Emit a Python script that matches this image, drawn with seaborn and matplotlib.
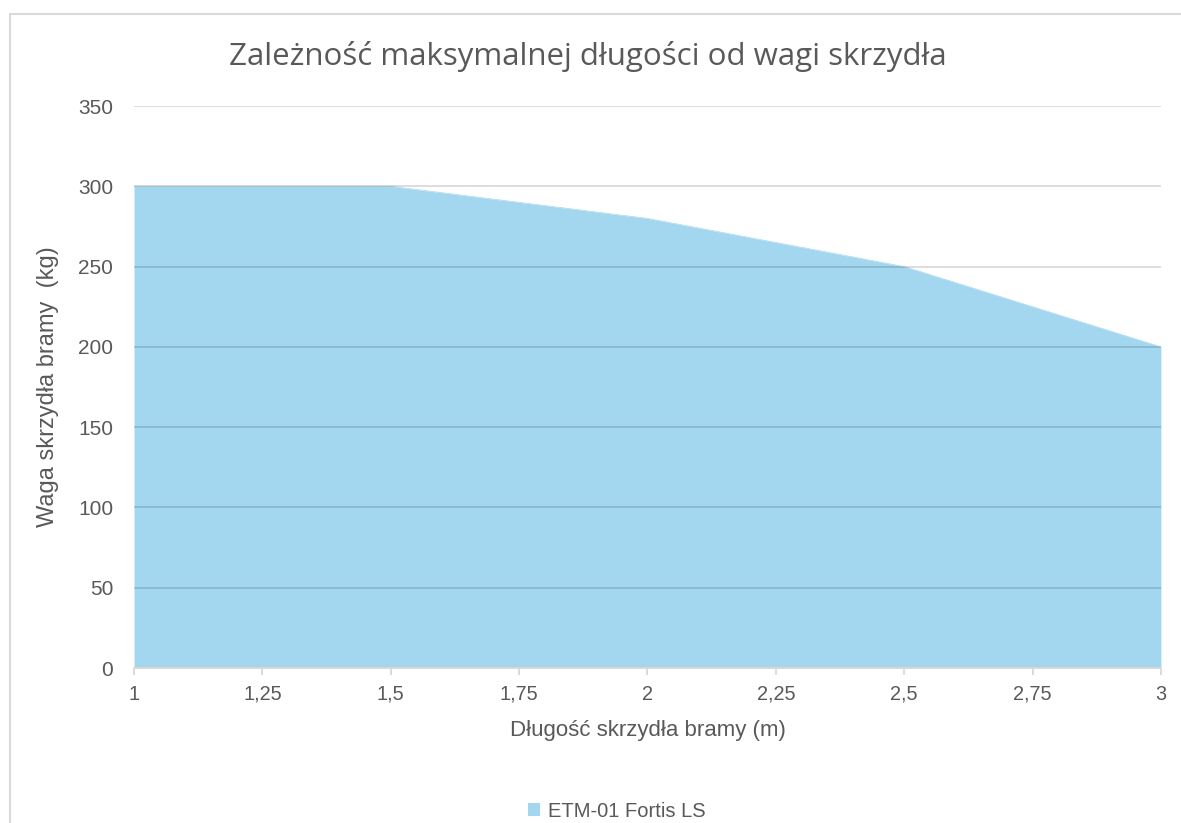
import numpy as np
import pandas as pd
import matplotlib
matplotlib.use("Agg")
import matplotlib.pyplot as plt
import seaborn as sns
from matplotlib.patches import Patch
from matplotlib.lines import Line2D
from matplotlib.ticker import FuncFormatter

# Data
dlugosc = [1.0, 1.5, 2.0, 2.5, 3.0]       # m
waga = [300, 300, 280, 250, 200]          # kg
seria = "ETM-01 Fortis LS"

df = pd.DataFrame({"x": dlugosc, "y": waga})

sns.set_style("white")
plt.rcParams['font.family'] = ['Liberation Sans', 'DejaVu Sans']

text_gray = '#595959'
fill_col = '#A3D7EF'

fig = plt.figure(figsize=(11.81, 8.23), dpi=100)
ax = fig.add_axes([0.1135, 0.1883, 0.983 - 0.1135, 0.8712 - 0.1883])

sns.lineplot(data=df, x="x", y="y", ax=ax, color=fill_col, linewidth=0.5)
ax.fill_between(df["x"], df["y"], 0, color=fill_col, linewidth=0, zorder=1)

# gridlines over the area, as in the reference
for yv in range(50, 351, 50):
    ax.axhline(yv, color='black', alpha=0.15, linewidth=1.3, zorder=3)

ax.set_xlim(1, 3)
ax.set_ylim(0, 350)
ax.set_xticks(np.arange(1, 3.01, 0.25))
ax.set_yticks(range(0, 351, 50))
fmt = FuncFormatter(lambda v, p: (f"{v:g}").replace('.', ','))
ax.xaxis.set_major_formatter(fmt)

ax.tick_params(axis='x', colors='#d9d9d9', labelcolor=text_gray, labelsize=14.3,
               length=5, width=1.3, direction='out', pad=7, bottom=True)
ax.tick_params(axis='y', labelcolor=text_gray, labelsize=15, length=0, pad=15)

for s in ['top', 'right', 'left']:
    ax.spines[s].set_visible(False)
ax.spines['bottom'].set_color('#d9d9d9')
ax.spines['bottom'].set_linewidth(1.3)
ax.spines['bottom'].set_zorder(4)

ax.set_xlabel("Długość skrzydła bramy (m)", fontsize=16, color=text_gray, labelpad=12)
ax.set_ylabel("Waga skrzydła bramy  (kg)", fontsize=17, color=text_gray, labelpad=14)

fig.text(0.498, 0.931, "Zależność maksymalnej długości od wagi skrzydła",
         ha='center', va='center', fontsize=22.5, color=text_gray,
         family=['Open Sans', 'DejaVu Sans'])

ax.legend(handles=[Patch(facecolor=fill_col, edgecolor='none', label=seria)],
          loc='center', bbox_to_anchor=(0.522, 0.014), bbox_transform=fig.transFigure,
          frameon=False, fontsize=14.5, labelcolor=text_gray,
          handlelength=0.6, handleheight=0.6, handletextpad=0.4)

# chart frame (partially visible in the reference)
fig.add_artist(Line2D([0.0083, 0.0083], [0, 0.983], color='#d9d9d9', linewidth=1.5,
                      transform=fig.transFigure))
fig.add_artist(Line2D([0.0083, 1.0], [0.983, 0.983], color='#d9d9d9', linewidth=1.5,
                      transform=fig.transFigure))

fig.savefig("out.png", dpi=100)
